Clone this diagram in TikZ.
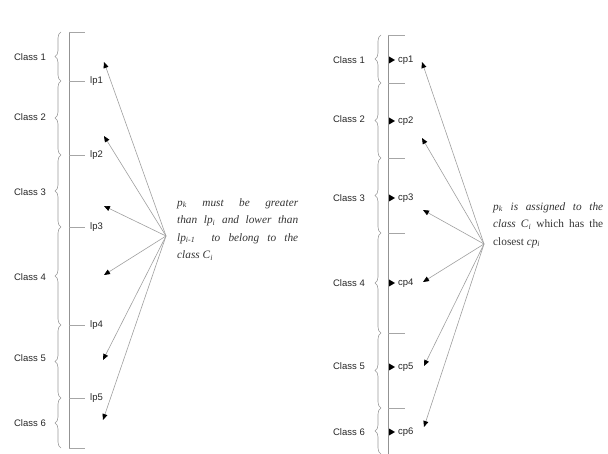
\documentclass[tikz,border=0pt]{standalone}
\usepackage{fontspec}
\setmainfont{Liberation Serif}
\setsansfont{Liberation Sans}
\usetikzlibrary{decorations.pathreplacing,arrows.meta}
\begin{document}
\begin{tikzpicture}[x=1pt,y=-1pt,
  axis/.style={draw=gray!85, line width=0.7pt},
  tick/.style={draw=gray!70, line width=0.7pt},
  curly/.style={draw=gray!80, line width=0.6pt, decorate,
    decoration={brace, amplitude=6pt}},
  cls/.style={font=\sffamily\fontsize{9.5}{11}\selectfont, anchor=east, inner sep=0pt, text=black!85},
  lim/.style={font=\sffamily\fontsize{9.5}{11}\selectfont, anchor=west, inner sep=0pt, text=black!85},
  ray/.style={draw=gray!75, line width=0.6pt,
    -{Triangle[length=6pt,width=5pt,color=black]}},
  note/.style={font=\fontsize{11.3}{17.5}\selectfont, anchor=north west, inner sep=0pt,
    text=black!80, align=justify},
  marker/.style={fill=black}
]
\useasboundingbox (0,0) rectangle (608,454);

% ---------- left: limit points lp ----------
\draw[axis] (69,32) -- (69,448);
\foreach \y in {32,81,155,227,325,398,448} \draw[tick] (69,\y) -- (85,\y);
\foreach \a/\b in {32/81,81/155,155/227,227/325,325/398,398/448}
  \draw[curly] (61,\b) -- (61,\a);
\node[cls] (L1) at (46,57)  {Class 1};
\node[cls] (L2) at (46,117) {Class 2};
\node[cls] (L3) at (46,192) {Class 3};
\node[cls] (L4) at (46,277) {Class 4};
\node[cls] (L5) at (46,358) {Class 5};
\node[cls] (L6) at (46,423) {Class 6};
\node[lim] (lp1) at (90,81)  {lp1};
\node[lim] (lp2) at (90,155) {lp2};
\node[lim] (lp3) at (90,227) {lp3};
\node[lim] (lp4) at (90,325) {lp4};
\node[lim] (lp5) at (90,398) {lp5};

\coordinate (hubL) at (166,236);
\coordinate (tl1) at (104,62);
\coordinate (tl2) at (104,136);
\coordinate (tl3) at (104,206);
\coordinate (tl4) at (104,275);
\coordinate (tl5) at (103,360);
\coordinate (tl6) at (103,420);
\foreach \t in {tl1,tl2,tl3,tl4,tl5,tl6} \draw[ray] (hubL) -- (\t);

\node[note, text width=121pt] (txtL) at (177,198)
  {\textit{p}\textsubscript{\textit{k}} \textit{must be greater}\linebreak
   \textit{than lp}\textsubscript{\textit{i}} \textit{and lower than}\linebreak
   \textit{lp}\textsubscript{\textit{i-1}} \textit{ to belong to the}\linebreak
   \textit{class C}\textsubscript{\textit{i}}};

% ---------- right: class centres cp ----------
\draw[axis] (388,35) -- (388,454);
\foreach \y in {35,83,158,233,333,408} \draw[tick] (388,\y) -- (405,\y);
\foreach \a/\b in {35/83,83/158,158/233,233/333,333/408,408/454}
  \draw[curly] (381,\b) -- (381,\a);
\node[cls] (R1) at (365,60)  {Class 1};
\node[cls] (R2) at (365,119) {Class 2};
\node[cls] (R3) at (365,198) {Class 3};
\node[cls] (R4) at (365,283) {Class 4};
\node[cls] (R5) at (365,366) {Class 5};
\node[cls] (R6) at (365,432) {Class 6};
\foreach \i/\y in {1/60,2/121,3/198,4/283,5/367,6/432} {
  \fill[marker] (389,\y-3.5) -- (395,\y) -- (389,\y+3.5) -- cycle;
  \node[lim] (cp\i) at (398,\y) {cp\i};
}

\coordinate (hubR) at (484,244);
\coordinate (tr1) at (422,62);
\coordinate (tr2) at (422,138);
\coordinate (tr3) at (423,210);
\coordinate (tr4) at (423,282);
\coordinate (tr5) at (424,366);
\coordinate (tr6) at (424,427);
\foreach \t in {tr1,tr2,tr3,tr4,tr5,tr6} \draw[ray] (hubR) -- (\t);

\node[note, text width=110pt] (txtR) at (493,202)
  {\textit{p}\textsubscript{\textit{k}} \textit{is assigned to the}\linebreak
   \textit{class C}\textsubscript{\textit{i}} which has the\linebreak
   closest \textit{cp}\textsubscript{\textit{i}}};
\end{tikzpicture}
\end{document}
